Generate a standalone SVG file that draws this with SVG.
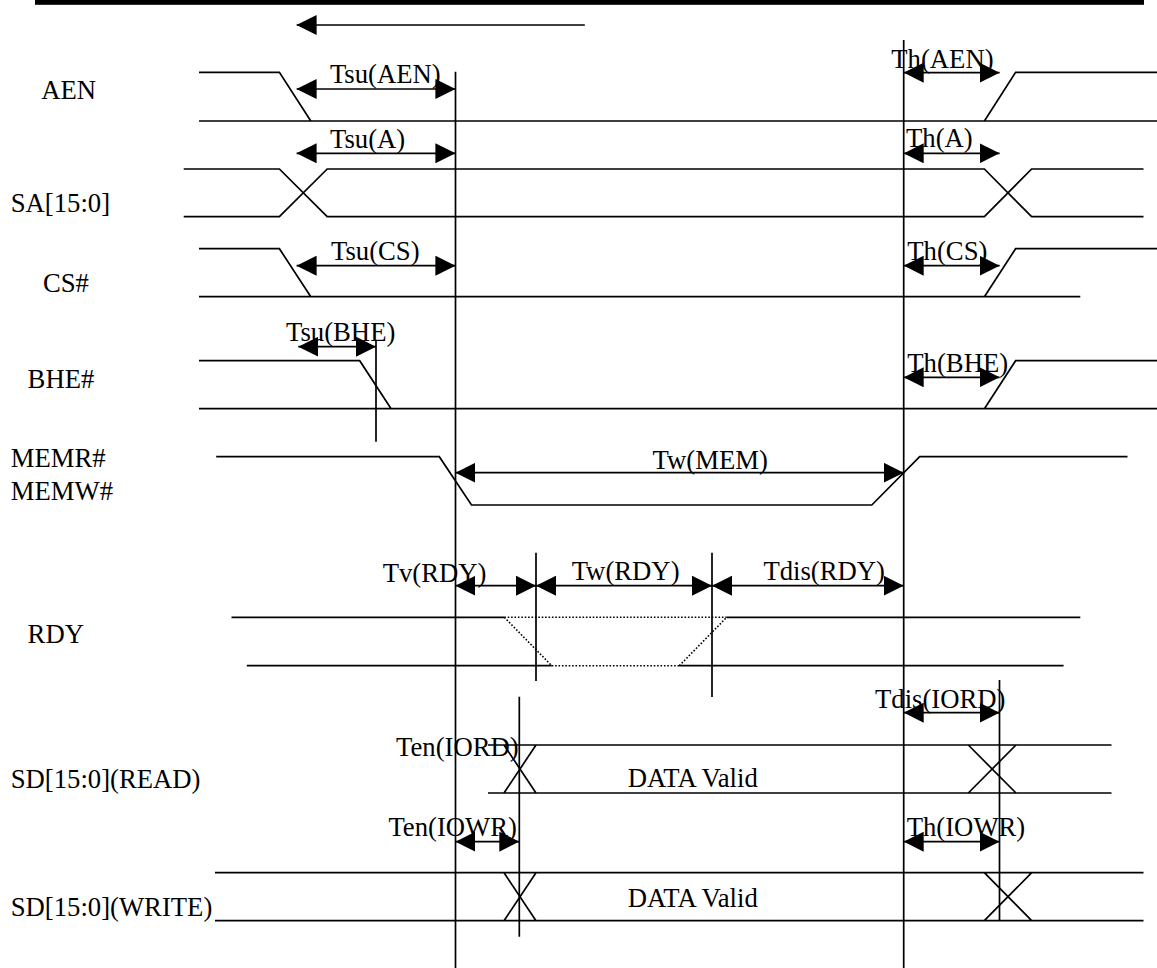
<svg xmlns="http://www.w3.org/2000/svg" width="1157" height="968" viewBox="0 0 1157 968">
<style>
.w{fill:none;stroke:#000;stroke-width:1.7}
.d{fill:none;stroke:#000;stroke-width:1.6;stroke-dasharray:1.6 1.8}
.a{fill:none;stroke:#000;stroke-width:1.7;marker-start:url(#ah);marker-end:url(#ah)}
.t{font-family:"Liberation Serif","Times New Roman",serif;font-size:26.7px;fill:#000}
</style>
<defs>
<marker id="ah" markerUnits="userSpaceOnUse" markerWidth="20" markerHeight="20" refX="20" refY="10" orient="auto-start-reverse" viewBox="0 0 20 20">
<path d="M0,0 L20,10 L0,20 z" fill="#000"/>
</marker>
</defs>
<rect x="0" y="0" width="1157" height="968" fill="#fff"/>
<rect x="35" y="0" width="1109" height="4.8" fill="#000"/>

<g id="sig-aen">
<text class="t" x="41.3" y="99">AEN</text>
<path class="w" d="M199,72.3 H279.4 L310.8,121 M199,121 H1157 M984.4,121 L1015.6,72.3 H1157"/>
</g>
<g id="sig-sa">
<text class="t" x="10.7" y="212">SA[15:0]</text>
<path class="w" d="M183.7,169 H279.4 L327.2,216.7 H984.4 L1031.6,169 H1143.5 M183.7,216.7 H279.4 L327.2,169 H984.4 L1031.6,216.7 H1143.5"/>
</g>
<g id="sig-cs">
<text class="t" x="42.9" y="291.7">CS#</text>
<path class="w" d="M199,248.7 H279.4 L310.8,296.7 M199,296.7 H1080.3 M984.4,296.7 L1015.6,248.7 H1157"/>
</g>
<g id="sig-bhe">
<text class="t" x="27.6" y="388.3">BHE#</text>
<path class="w" d="M199,360.7 H359.7 L391.1,408.7 M199,408.7 H1157 M984.4,408.7 L1015.6,360.7 H1157"/>
</g>
<g id="sig-mem">
<text class="t" x="10.7" y="466.7">MEMR#</text>
<text class="t" x="10.7" y="500">MEMW#</text>
<path class="w" d="M216.2,456.7 H439.3 L471.5,505 H871.8 L919.7,456.7 H1127.5"/>
</g>
<g id="sig-rdy">
<text class="t" x="27.6" y="643.3">RDY</text>
<path class="w" d="M231.5,617.3 H504.3 M726.7,617.3 H1080.3 M246.8,665.7 H551.7 M679.3,665.7 H1063.6"/>
<path class="d" d="M504.3,617.3 H726.7 M551.7,665.7 H679.3 M504.3,617.3 L551.7,665.7 M679.3,665.7 L726.7,617.3"/>
</g>
<g id="sig-sd-read">
<text class="t" x="10.7" y="788">SD[15:0](READ)</text>
<text class="t" x="627.7" y="787.3">DATA Valid</text>
<path class="w" d="M488,745 H1111.5 M488,793 H1111.5 M504,745 L536,793 M536,745 L504,793 M968.3,745 L1016,793 M1016,745 L968.3,793"/>
</g>
<g id="sig-sd-write">
<text class="t" x="10.7" y="915.7">SD[15:0](WRITE)</text>
<text class="t" x="627.7" y="907.3">DATA Valid</text>
<path class="w" d="M215,872.7 H1143.5 M215,920.7 H1143.5 M504,872.7 L536,920.7 M536,872.7 L504,920.7 M984.3,872.7 L1031.7,920.7 M1031.7,872.7 L984.3,920.7"/>
</g>

<g id="markers">
<path class="w" d="M455.5,71.7 V968 M903.7,40 V968 M376,340 V441.7 M536,552.7 V681 M712,552.7 V697 M519.3,696.7 V936.7 M999.5,680 V920.7"/>
</g>

<g id="connectors">
<line class="w" x1="584.8" y1="25" x2="296.6" y2="25" style="marker-end:url(#ah)"/>
<line class="a" x1="296.6" y1="89" x2="455.4" y2="89"/>
<line class="a" x1="296.6" y1="153.3" x2="455.4" y2="153.3"/>
<line class="a" x1="296.6" y1="265.7" x2="455.4" y2="265.7"/>
<line class="a" x1="298.3" y1="346.7" x2="376" y2="346.7"/>
<line class="a" x1="903.7" y1="72.7" x2="999.6" y2="72.7"/>
<line class="a" x1="903.7" y1="153.3" x2="999.6" y2="153.3"/>
<line class="a" x1="903.7" y1="265.7" x2="999.6" y2="265.7"/>
<line class="a" x1="903.7" y1="377.3" x2="999.6" y2="377.3"/>
<line class="a" x1="455.4" y1="472.7" x2="903.7" y2="472.7"/>
<line class="a" x1="455.4" y1="585.7" x2="536" y2="585.7"/>
<line class="a" x1="536" y1="585.7" x2="712" y2="585.7"/>
<line class="a" x1="712" y1="585.7" x2="903.7" y2="585.7"/>
<line class="a" x1="903.7" y1="712.7" x2="999.5" y2="712.7"/>
<line class="a" x1="455.4" y1="841.7" x2="519.3" y2="841.7"/>
<line class="a" x1="903.7" y1="841.7" x2="999.5" y2="841.7"/>
</g>

<g id="labels">
<text class="t" x="329.9" y="83.3">Tsu(AEN)</text>
<text class="t" x="330" y="148">Tsu(A)</text>
<text class="t" x="331" y="260">Tsu(CS)</text>
<text class="t" x="286" y="341">Tsu(BHE)</text>
<text class="t" x="891.3" y="68.3">Th(AEN)</text>
<text class="t" x="906" y="147">Th(A)</text>
<text class="t" x="907.3" y="260">Th(CS)</text>
<text class="t" x="907.3" y="372.3">Th(BHE)</text>
<text class="t" x="652.6" y="469.3">Tw(MEM)</text>
<text class="t" x="382.7" y="581.7">Tv(RDY)</text>
<text class="t" x="571.7" y="580">Tw(RDY)</text>
<text class="t" x="763.4" y="580">Tdis(RDY)</text>
<text class="t" x="875" y="708.3">Tdis(IORD)</text>
<text class="t" x="396" y="756">Ten(IORD)</text>
<text class="t" x="388.4" y="836">Ten(IOWR)</text>
<text class="t" x="906.7" y="836">Th(IOWR)</text>
</g>
</svg>
